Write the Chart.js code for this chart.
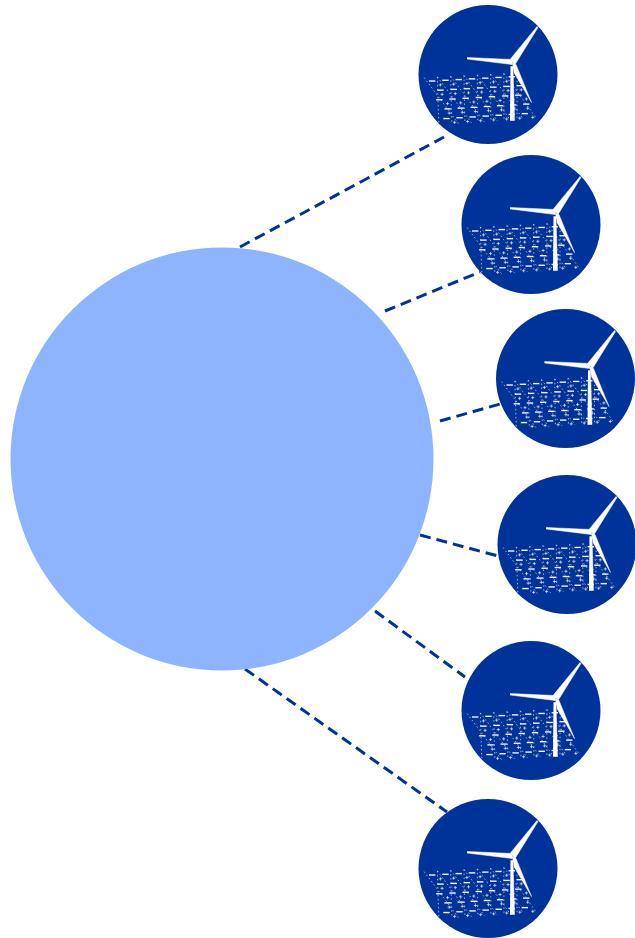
<!DOCTYPE html>
<html><head><meta charset="utf-8">
<style>html,body{margin:0;padding:0;background:#fff}canvas{display:block}</style>
<script src="https://cdn.jsdelivr.net/npm/chart.js@4/dist/chart.umd.js"></script>
</head><body><canvas id="c" width="635" height="938" style="width:635px;height:938px"></canvas>
<script>
const hubCircle = [{x:222,y:459,r:211.5}];
const iconX = [488,531,565.5,567,531,488];
const iconY = [74.5,224.5,378.5,544.5,710.5,868.5];
const iconR = 69.5;
const linkFromX = [240,385,440,420,375,245];
const linkFromY = [247,311,421,535,611,669];
const linkToX = [444,480,500,498,465,447];
const linkToY = [137,272,404,556,677,812];
const towerShape = [[22.5,-8],[25,-8],[26.5,46],[22,46]];
const bladeUp = [[22,-15],[49,-48],[50,-47],[27,-10]];
const bladeLeft = [[-21,-17],[24,-15],[24,-10],[-21,-15.5]];
const bladeDown = [[24,-12],[28,-10],[43.5,28],[26,-2]];
const panelCorners = [[-62,3],[33,-2],[49,44],[-44,50]];
const panelU = [0.05,0.19,0.33,0.47,0.61,0.75,0.89];
const panelV = [0.08,0.28,0.48,0.68,0.88];
const panelStep = [-0.07,-0.035,0,0.035,0.07,0.105];
const panelDiagV = [0,0.2,0.4,0.6,0.8,1];
const navy = '#003399', light = '#8FB4FF';

function mapPanel(u,v,cx,cy){
  const [a,b,c,d] = panelCorners;
  return {x:cx+(1-u)*(1-v)*a[0]+u*(1-v)*b[0]+u*v*c[0]+(1-u)*v*d[0],
          y:cy+(1-u)*(1-v)*a[1]+u*(1-v)*b[1]+u*v*c[1]+(1-u)*v*d[1]};
}
const datasets = [];
linkFromX.forEach((_,i)=>datasets.push({type:'scatter',showLine:true,order:5,
  data:[{x:linkFromX[i],y:linkFromY[i]},{x:linkToX[i],y:linkToY[i]}],
  borderColor:navy,borderWidth:3,borderDash:[11,6],pointRadius:0,fill:false}));
datasets.push({type:'bubble',order:4,data:hubCircle,backgroundColor:light,borderWidth:0,clip:false});
datasets.push({type:'bubble',order:3,data:iconX.map((x,i)=>({x,y:iconY[i],r:iconR})),
  backgroundColor:navy,borderWidth:0,clip:false});
iconX.forEach((cx,i)=>{
  const cy = iconY[i];
  const nodes = [], ticks = [];
  panelV.forEach((v,j)=>panelU.forEach(u=>{
    nodes.push(mapPanel(u+(j%2)*0.05,v,cx,cy));
    ticks.push(mapPanel(u+0.07-(j%2)*0.02,v+0.09,cx,cy));
  }));
  datasets.push({type:'scatter',order:2,data:nodes,pointStyle:'line',pointRadius:3.2,
    pointBorderColor:'rgba(255,255,255,.95)',pointBorderWidth:1.4,clip:false});
  datasets.push({type:'scatter',order:2,data:ticks,pointStyle:'cross',pointRadius:1.6,
    pointBorderColor:'rgba(255,255,255,.7)',pointBorderWidth:0.9,clip:false});
  panelU.forEach(u=>{
    datasets.push({type:'scatter',showLine:true,order:2,
      data:panelDiagV.map((v,j)=>mapPanel(u+panelStep[j],v,cx,cy)),
      pointRadius:0,borderColor:'rgba(255,255,255,.6)',borderWidth:1,borderDash:[1.5,2.5],clip:false});
    datasets.push({type:'scatter',showLine:true,order:2,
      data:panelDiagV.map((v,j)=>mapPanel(u-panelStep[j],v,cx,cy)),
      pointRadius:0,borderColor:'rgba(255,255,255,.6)',borderWidth:1,borderDash:[1.5,2.5],clip:false});
  });
  [towerShape,bladeUp,bladeLeft,bladeDown].forEach(s=>datasets.push({type:'scatter',showLine:true,order:1,
    data:s.map(p=>({x:cx+p[0],y:cy+p[1]})),borderColor:'#fff',borderWidth:0.5,backgroundColor:'#fff',
    fill:'shape',pointRadius:0,clip:false}));
});
new Chart(document.getElementById('c'),{
  data:{datasets},
  options:{responsive:false,animation:false,devicePixelRatio:1,
    layout:{padding:0,autoPadding:false},
    plugins:{legend:{display:false},tooltip:{enabled:false}},
    events:[],
    scales:{x:{type:'linear',display:false,min:0,max:635},y:{type:'linear',display:false,min:0,max:938,reverse:true}}}
});
</script></body></html>
